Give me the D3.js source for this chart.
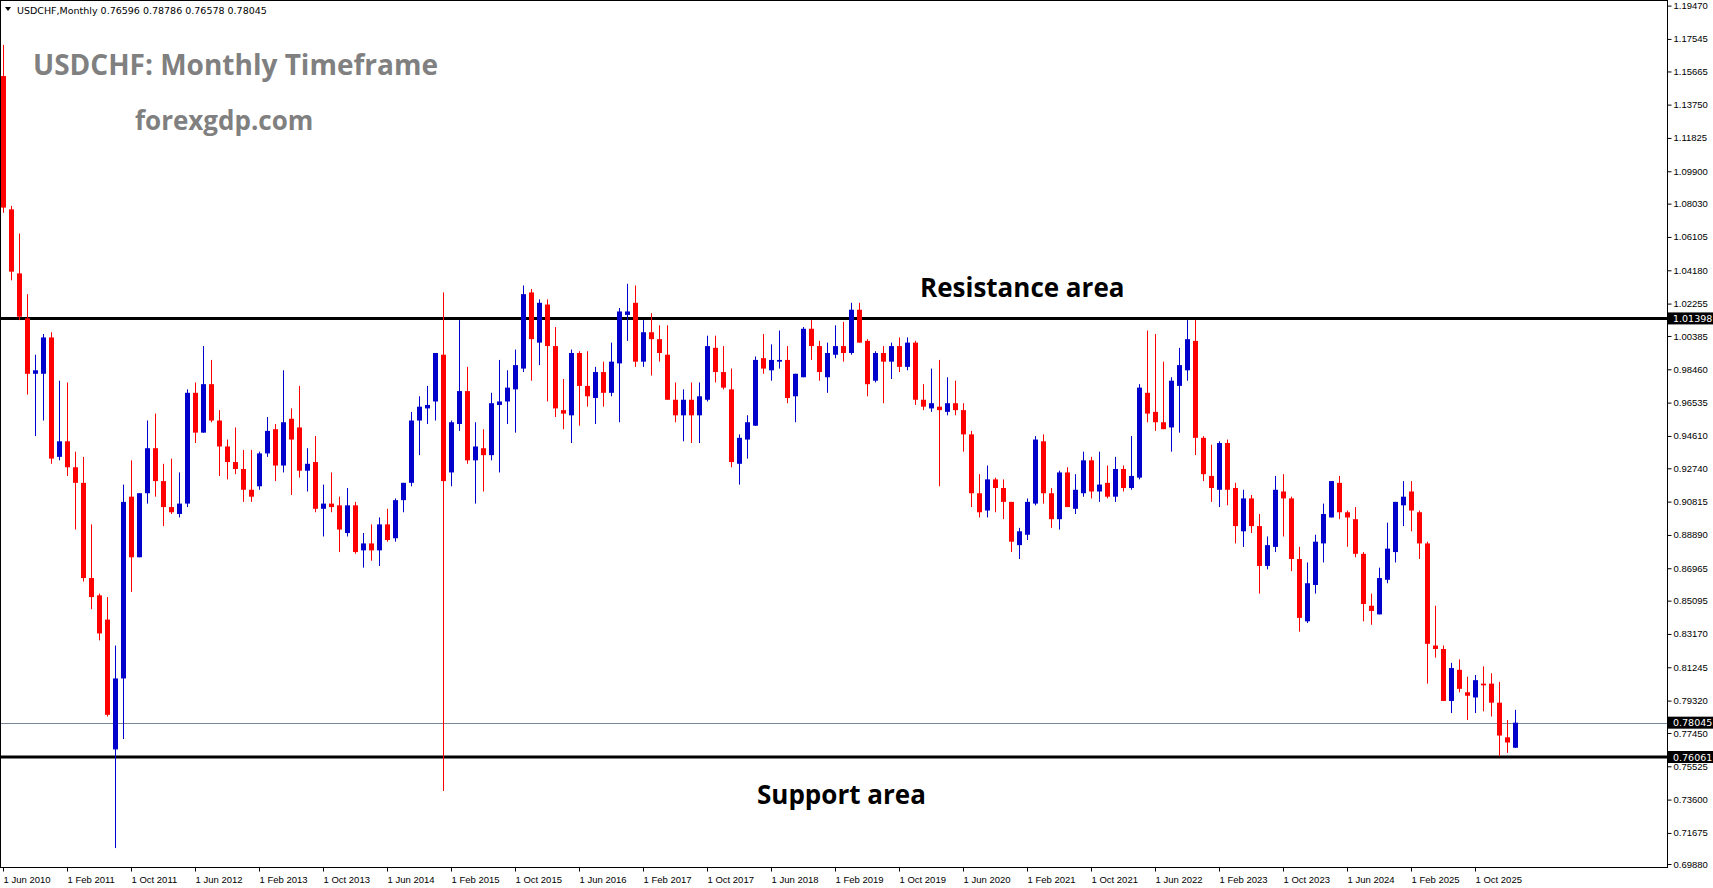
<!DOCTYPE html>
<html>
<head>
<meta charset="utf-8">
<script src="https://cdn.jsdelivr.net/npm/d3@7"></script>
<style>
  html, body { margin: 0; padding: 0; background: #fff; }
  svg { display: block; }
</style>
</head>
<body>
<script>
// monthly USDCHF candles, 1 Jun 2010 onwards
const opens = [1.154,1.077,1.040,1.014,0.982,0.982,1.003,0.934,0.943,0.928,0.919,0.864,0.854,0.840,0.765,0.806,0.911,0.876,0.913,0.939,
  0.920,0.905,0.901,0.907,0.971,0.948,0.976,0.955,0.940,0.931,0.927,0.915,0.917,0.936,0.950,0.929,0.956,0.951,0.926,0.931,
  0.904,0.907,0.906,0.890,0.906,0.880,0.884,0.880,0.895,0.887,0.909,0.919,0.955,0.962,0.966,0.993,0.925,0.953,0.972,0.932,
  0.939,0.935,0.964,0.966,0.973,0.985,1.029,1.000,1.022,0.998,0.961,0.958,0.994,0.975,0.968,0.983,0.971,0.988,1.016,1.023,
  0.989,1.006,1.002,0.993,0.967,0.958,0.967,0.958,0.967,0.997,0.983,0.973,0.930,0.944,0.952,0.991,0.984,0.989,0.990,0.969,
  0.980,1.008,0.998,0.980,0.993,0.998,0.994,1.019,1.001,0.978,0.994,0.989,0.998,0.986,1.000,0.967,0.962,0.963,0.960,0.965,
  0.961,0.947,0.913,0.903,0.921,0.916,0.908,0.883,0.889,0.907,0.943,0.913,0.898,0.925,0.904,0.913,0.932,0.914,0.919,0.911,
  0.927,0.916,0.922,0.971,0.960,0.954,0.951,0.975,0.984,1.001,0.945,0.923,0.915,0.942,0.916,0.891,0.910,0.894,0.871,0.882,
  0.914,0.910,0.875,0.839,0.860,0.884,0.899,0.919,0.902,0.898,0.878,0.848,0.843,0.863,0.879,0.906,0.914,0.902,0.884,0.825,
  0.823,0.793,0.811,0.798,0.795,0.803,0.803,0.792,0.772,0.76596];
const highs = [1.172,1.079,1.063,1.028,0.993,1.005,1.006,0.978,0.977,0.937,0.934,0.895,0.855,0.853,0.825,0.918,0.932,0.913,0.955,0.959,
  0.930,0.933,0.925,0.973,0.977,0.998,0.990,0.961,0.944,0.951,0.938,0.938,0.937,0.957,0.953,0.984,0.962,0.975,0.939,0.946,
  0.918,0.925,0.911,0.916,0.908,0.890,0.895,0.899,0.904,0.910,0.919,0.960,0.969,0.975,0.994,1.029,0.955,1.013,0.986,0.954,
  0.950,0.971,0.990,0.984,0.996,1.033,1.031,1.025,1.025,1.009,0.979,0.996,0.995,0.995,0.986,0.989,1.000,1.020,1.034,1.033,
  1.013,1.017,1.010,1.010,0.977,0.973,0.977,0.977,1.004,1.004,0.998,0.985,0.947,0.958,0.992,1.005,0.999,1.007,0.998,0.982,
  1.009,1.013,1.001,1.000,1.010,1.012,1.023,1.023,1.002,0.995,0.998,1.000,1.003,1.003,1.001,0.976,0.985,0.990,0.980,0.978,
  0.965,0.949,0.924,0.929,0.922,0.921,0.908,0.893,0.910,0.946,0.947,0.916,0.926,0.928,0.924,0.937,0.934,0.937,0.929,0.934,
  0.929,0.946,0.976,1.007,1.005,0.989,0.980,0.997,1.013,1.013,0.946,0.941,0.943,0.944,0.919,0.915,0.912,0.901,0.888,0.923,
  0.924,0.911,0.882,0.873,0.889,0.907,0.920,0.923,0.903,0.905,0.879,0.855,0.870,0.896,0.908,0.920,0.920,0.903,0.885,0.848,
  0.825,0.815,0.817,0.807,0.808,0.813,0.809,0.804,0.782,0.78786];
const lows = [1.075,1.036,1.013,0.970,0.946,0.955,0.930,0.932,0.923,0.892,0.862,0.846,0.828,0.784,0.708,0.771,0.856,0.876,0.907,0.911,
  0.894,0.901,0.899,0.905,0.942,0.948,0.954,0.923,0.921,0.924,0.908,0.908,0.915,0.934,0.920,0.925,0.912,0.922,0.914,0.902,
  0.888,0.902,0.879,0.888,0.878,0.870,0.874,0.871,0.885,0.885,0.902,0.917,0.935,0.953,0.955,0.741,0.917,0.949,0.930,0.907,
  0.914,0.932,0.925,0.953,0.948,0.983,0.978,0.987,0.966,0.957,0.950,0.942,0.952,0.963,0.953,0.963,0.969,0.954,1.001,0.986,
  0.986,0.981,0.989,0.967,0.954,0.943,0.942,0.942,0.966,0.977,0.973,0.928,0.918,0.933,0.952,0.982,0.978,0.985,0.965,0.954,
  0.980,0.990,0.978,0.971,0.991,0.989,0.993,1.000,0.969,0.977,0.965,0.979,0.983,0.984,0.964,0.961,0.960,0.917,0.958,0.958,
  0.937,0.905,0.899,0.899,0.902,0.898,0.879,0.875,0.886,0.906,0.907,0.893,0.892,0.905,0.901,0.911,0.910,0.908,0.910,0.908,
  0.914,0.915,0.921,0.954,0.949,0.950,0.937,0.948,0.978,0.935,0.920,0.908,0.905,0.906,0.884,0.882,0.890,0.855,0.869,0.879,
  0.888,0.868,0.833,0.838,0.855,0.873,0.899,0.898,0.882,0.876,0.839,0.837,0.843,0.861,0.873,0.894,0.891,0.875,0.803,0.818,
  0.793,0.786,0.798,0.782,0.786,0.787,0.784,0.761,0.763,0.76578];
const closes = [1.078,1.041,1.015,0.982,0.984,1.003,0.933,0.943,0.928,0.919,0.864,0.853,0.832,0.785,0.806,0.908,0.876,0.913,0.939,0.920,
  0.905,0.902,0.907,0.971,0.948,0.976,0.955,0.940,0.931,0.927,0.915,0.911,0.936,0.949,0.929,0.954,0.944,0.926,0.930,0.904,
  0.907,0.905,0.892,0.906,0.879,0.884,0.880,0.895,0.886,0.909,0.919,0.955,0.963,0.964,0.994,0.920,0.954,0.972,0.932,0.940,
  0.935,0.965,0.966,0.974,0.987,1.028,1.002,1.023,0.998,0.962,0.959,0.994,0.975,0.969,0.983,0.971,0.989,1.018,1.018,0.989,
  1.006,1.002,0.994,0.967,0.958,0.967,0.958,0.969,0.998,0.983,0.974,0.931,0.945,0.954,0.990,0.985,0.990,0.990,0.968,0.982,
  1.008,0.998,0.983,0.994,0.998,0.994,1.019,1.000,0.976,0.994,0.989,0.998,0.986,1.000,0.967,0.963,0.965,0.961,0.965,0.961,
  0.947,0.913,0.902,0.921,0.916,0.908,0.885,0.891,0.908,0.944,0.913,0.898,0.925,0.905,0.915,0.932,0.914,0.918,0.911,0.927,
  0.916,0.923,0.974,0.959,0.954,0.950,0.978,0.987,1.002,0.945,0.924,0.916,0.942,0.915,0.894,0.910,0.894,0.871,0.883,0.915,
  0.910,0.875,0.841,0.861,0.885,0.901,0.920,0.902,0.899,0.878,0.849,0.845,0.864,0.881,0.908,0.911,0.903,0.884,0.826,0.823,
  0.793,0.812,0.800,0.796,0.805,0.802,0.792,0.773,0.769,0.78045];

const priceTicks = [1.19470,1.17545,1.15665,1.13750,1.11825,1.09900,1.08030,1.06105,1.04180,1.02255,1.00385,0.98460,0.96535,
  0.94610,0.92740,0.90815,0.88890,0.86965,0.85095,0.83170,0.81245,0.79320,0.77450,0.75525,0.73600,0.71675,0.69880];
const dateLabels = ["1 Jun 2010","1 Feb 2011","1 Oct 2011","1 Jun 2012","1 Feb 2013","1 Oct 2013","1 Jun 2014","1 Feb 2015",
  "1 Oct 2015","1 Jun 2016","1 Feb 2017","1 Oct 2017","1 Jun 2018","1 Feb 2019","1 Oct 2019","1 Jun 2020","1 Feb 2021",
  "1 Oct 2021","1 Jun 2022","1 Feb 2023","1 Oct 2023","1 Jun 2024","1 Feb 2025","1 Oct 2025"];
const levels = [1.01398, 0.76061];
const lastPrice = 0.78045;

const width = 1713, height = 888;
const plotRight = 1667, plotBottom = 867;

const candles = opens.map((o, i) => ({ i, o, h: highs[i], l: lows[i], c: closes[i] }));

const x = d3.scaleLinear().domain([0, 189]).range([3, 1515]);
const y = d3.scaleLinear().domain([0.6988, 1.1947]).range([864, 5.6]);

const svg = d3.select("body").append("svg")
  .attr("width", width).attr("height", height)
  .style("font-family", "DejaVu Sans, Tahoma, sans-serif");

svg.append("defs").append("clipPath").attr("id", "plot")
  .append("rect").attr("x", 1).attr("y", 1).attr("width", plotRight - 1).attr("height", plotBottom - 1);

// frame
svg.append("rect").attr("x", 0.5).attr("y", 0.5).attr("width", plotRight).attr("height", plotBottom)
  .attr("fill", "none").attr("stroke", "#000");

// right price axis
const yAxis = svg.append("g").attr("transform", `translate(${plotRight + 0.5},0)`)
  .call(d3.axisRight(y).tickValues(priceTicks).tickSize(4).tickFormat(d3.format(".5f")));
yAxis.select(".domain").remove();
yAxis.selectAll("text").attr("font-size", 9.5).attr("x", 6).attr("fill", "#000");

// bottom date axis (ticks every 8 months)
const xAxis = svg.append("g").attr("transform", `translate(0,${plotBottom + 0.5})`)
  .call(d3.axisBottom(x).tickValues(dateLabels.map((_, k) => k * 8)).tickSize(4)
    .tickFormat((_, k) => dateLabels[k]));
xAxis.select(".domain").remove();
xAxis.selectAll("text").attr("font-size", 9.5).attr("text-anchor", "start").attr("x", 0).attr("dy", "0.9em").attr("fill", "#000");

const g = svg.append("g").attr("clip-path", "url(#plot)");

// current price line
g.append("line").attr("x1", 0).attr("x2", plotRight).attr("y1", Math.round(y(lastPrice)) + 0.5).attr("y2", Math.round(y(lastPrice)) + 0.5)
  .attr("stroke", "#778899").attr("stroke-width", 1);

// resistance / support
g.selectAll("line.level").data(levels).join("line").attr("class", "level")
  .attr("x1", 0).attr("x2", plotRight).attr("y1", d => y(d)).attr("y2", d => y(d))
  .attr("stroke", "#000").attr("stroke-width", 3);

const col = d => d.c >= d.o ? "#0000cd" : "#ff0000";

g.selectAll("line.wick").data(candles).join("line").attr("class", "wick")
  .attr("x1", d => Math.round(x(d.i)) + 0.5).attr("x2", d => Math.round(x(d.i)) + 0.5)
  .attr("y1", d => y(d.h)).attr("y2", d => y(d.l))
  .attr("stroke", col).attr("stroke-width", 1);

g.selectAll("rect.body").data(candles).join("rect").attr("class", "body")
  .attr("x", d => Math.round(x(d.i)) - 2).attr("width", 5)
  .attr("y", d => y(Math.max(d.o, d.c)))
  .attr("height", d => Math.max(1.5, Math.abs(y(d.o) - y(d.c))))
  .attr("fill", col);

// value boxes on the price axis
const boxes = [levels[0], lastPrice, levels[1]];
const bx = svg.selectAll("g.box").data(boxes).join("g").attr("class", "box")
  .attr("transform", d => `translate(${plotRight + 1},${y(d)})`);
bx.append("rect").attr("x", 0).attr("y", -6).attr("width", 46).attr("height", 12).attr("fill", "#000");
bx.append("text").attr("x", 5).attr("y", 3.5).attr("font-size", 9.5).attr("fill", "#fff")
  .text(d => d3.format(".5f")(d));

// header
svg.append("path").attr("d", "M5,7 L11,7 L8,11 Z").attr("fill", "#000");
svg.append("text").attr("x", 17).attr("y", 14).attr("font-size", 9.5).attr("fill", "#000")
  .text("USDCHF,Monthly  0.76596 0.78786 0.76578 0.78045");

// annotations
svg.append("text").attr("x", 33).attr("y", 75).attr("font-family", "Open Sans, sans-serif").attr("font-weight", "bold")
  .attr("font-size", 28).attr("fill", "#808080").text("USDCHF: Monthly Timeframe");
svg.append("text").attr("x", 135).attr("y", 130).attr("font-family", "Open Sans, sans-serif").attr("font-weight", "bold")
  .attr("font-size", 26).attr("fill", "#808080").text("forexgdp.com");
svg.append("text").attr("x", 920).attr("y", 297).attr("font-family", "Open Sans, sans-serif").attr("font-weight", "bold")
  .attr("font-size", 26).attr("fill", "#000").text("Resistance area");
svg.append("text").attr("x", 757).attr("y", 804).attr("font-family", "Open Sans, sans-serif").attr("font-weight", "bold")
  .attr("font-size", 26).attr("fill", "#000").text("Support area");
</script>
</body>
</html>
